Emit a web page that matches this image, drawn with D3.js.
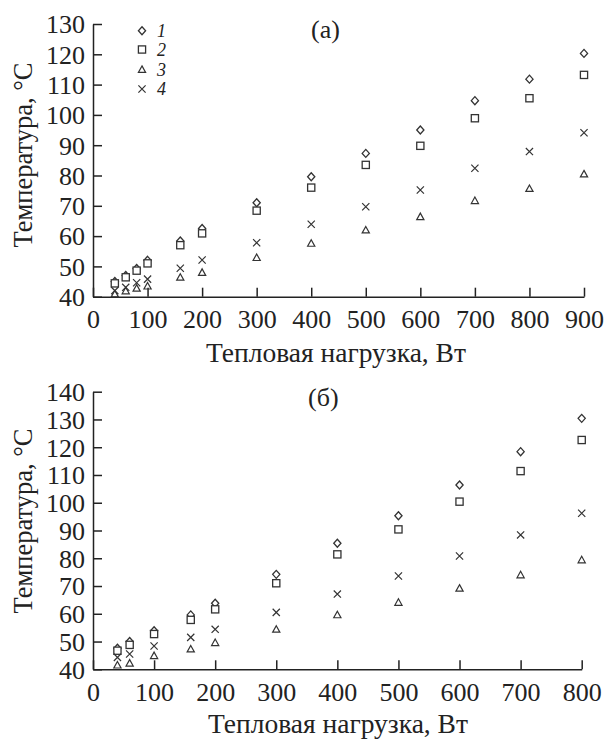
<!DOCTYPE html>
<html><head><meta charset="utf-8">
<script src="https://cdn.jsdelivr.net/npm/d3@7/dist/d3.min.js"></script>
<style>body{margin:0;background:#fff}svg{display:block}text{font-family:"Liberation Serif","Times New Roman",serif;fill:#222}</style>
</head><body>
<script>
// Panel (a)
const xA = [40, 60, 80, 100, 160, 200, 300, 400, 500, 600, 700, 800, 900];
const a1 = [45, 47, 49.3, 52, 58.4, 62.5, 71, 79.6, 87.3, 95, 104.7, 111.8, 120.3];
const a2 = [44.4, 46.4, 48.6, 51, 57, 60.9, 68.4, 76, 83.5, 89.8, 98.9, 105.5, 113.2];
const a3 = [40.9, 41.9, 42.8, 43.5, 46.4, 48, 52.9, 57.6, 62, 66.4, 71.7, 75.7, 80.5];
const a4 = [42, 43.1, 44.6, 45.8, 49.4, 52.1, 57.8, 63.9, 69.7, 75.2, 82.4, 87.9, 94.1];
const xTicksA = [0, 100, 200, 300, 400, 500, 600, 700, 800, 900];
const yTicksA = [40, 50, 60, 70, 80, 90, 100, 110, 120, 130];
// Panel (б)
const xB = [40, 60, 100, 160, 200, 300, 400, 500, 600, 700, 800];
const b1 = [47.6, 50, 53.9, 59.6, 63.8, 74.2, 85.4, 95.3, 106.4, 118.4, 130.4];
const b2 = [46.7, 48.8, 52.7, 57.8, 61.6, 71, 81.4, 90.4, 100.4, 111.4, 122.6];
const b3 = [41.5, 42.2, 44.9, 47.3, 49.6, 54.4, 59.6, 64.1, 69.2, 74, 79.4];
const b4 = [44.3, 45.5, 48.4, 51.5, 54.4, 60.5, 67.1, 73.6, 80.8, 88.4, 96.2];
const xTicksB = [0, 100, 200, 300, 400, 500, 600, 700, 800];
const yTicksB = [40, 50, 60, 70, 80, 90, 100, 110, 120, 130, 140];
const legendLabels = ["1", "2", "3", "4"];
const xTitle = "Тепловая нагрузка, Вт";
const yTitle = "Температура, °C";

const W = 605, H = 740;
const svg = d3.select("body").append("svg").attr("width", W).attr("height", H);
const stroke = "#333";

function marker(g, type, x, y) {
  const s = 3.6;
  if (type === 0) {
    g.append("path").attr("d", `M${x},${y-s-0.4}L${x+s},${y}L${x},${y+s+0.4}L${x-s},${y}Z`)
      .attr("fill", "#fff").attr("stroke", stroke).attr("stroke-width", 1.3);
  } else if (type === 1) {
    g.append("rect").attr("x", x-s).attr("y", y-s).attr("width", 2*s).attr("height", 2*s)
      .attr("fill", "#fff").attr("stroke", stroke).attr("stroke-width", 1.3);
  } else if (type === 2) {
    g.append("path").attr("d", `M${x},${y-s}L${x+s},${y+s*0.8}L${x-s},${y+s*0.8}Z`)
      .attr("fill", "none").attr("stroke", stroke).attr("stroke-width", 1.2);
  } else {
    g.append("path").attr("d", `M${x-s},${y-s}L${x+s},${y+s}M${x+s},${y-s}L${x-s},${y+s}`)
      .attr("fill", "none").attr("stroke", stroke).attr("stroke-width", 1.2);
  }
}

function panel(cfg) {
  const g = svg.append("g");
  const x = d3.scaleLinear().domain(cfg.xDom).range([cfg.x0, cfg.x1]);
  const y = d3.scaleLinear().domain(cfg.yDom).range([cfg.y0, cfg.y1]);
  const xa = g.append("g").attr("transform", `translate(0,${cfg.y0})`)
    .call(d3.axisBottom(x).tickValues(cfg.xTicks).tickSizeInner(-9).tickSizeOuter(0).tickPadding(16));
  const ya = g.append("g").attr("transform", `translate(${cfg.x0},0)`)
    .call(d3.axisLeft(y).tickValues(cfg.yTicks).tickSizeInner(-9).tickSizeOuter(0).tickPadding(8));
  [xa, ya].forEach(a => {
    a.select(".domain").attr("stroke", "#222").attr("stroke-width", 1.5);
    a.selectAll(".tick line").attr("stroke", "#222").attr("stroke-width", 1.5);
    a.selectAll(".tick text").attr("fill", "#222").style("font-size", "26px")
      .style("font-family", '"Liberation Serif",serif');
  });
  xa.selectAll(".tick text").attr("dy", "0.71em").attr("y", 13);
  ya.selectAll(".tick text").attr("dy", "0.34em");
  const mg = g.append("g");
  cfg.series.forEach((s, i) => {
    s.forEach((v, j) => marker(mg, i, x(cfg.xs[j]), y(v)));
  });
  g.append("text").attr("x", cfg.xTitleX).attr("y", cfg.xTitleY)
    .attr("text-anchor", "middle").style("font-size", "27.5px").text(xTitle);
  g.append("text").attr("transform", `translate(${cfg.yTitleX},${cfg.yTitleY}) rotate(-90)`)
    .attr("text-anchor", "middle").style("font-size", "26.5px").text(yTitle);
  g.append("text").attr("x", cfg.labelX).attr("y", cfg.labelY).style("font-size", "26px").text(cfg.label);
  return { x, y, g };
}

panel({
  xDom: [0, 900], yDom: [40, 130], x0: 93, x1: 584, y0: 296.7, y1: 24,
  xTicks: xTicksA, yTicks: yTicksA, xs: xA, series: [a1, a2, a3, a4],
  xTitleX: 336, xTitleY: 362, yTitleX: 32, yTitleY: 155, label: "(a)", labelX: 311, labelY: 38
});
panel({
  xDom: [0, 800], yDom: [40, 140], x0: 93, x1: 581.7, y0: 669.3, y1: 391.7,
  xTicks: xTicksB, yTicks: yTicksB, xs: xB, series: [b1, b2, b3, b4],
  xTitleX: 338, xTitleY: 733, yTitleX: 32, yTitleY: 521, label: "(б)", labelX: 308, labelY: 406
});

// legend in panel (a)
const lg = svg.append("g");
const legY = [30.7, 49.5, 69.5, 89];
legendLabels.forEach((t, i) => {
  marker(lg, i, 142, legY[i]);
  lg.append("text").attr("x", 157).attr("y", legY[i]).attr("dy", "0.35em")
    .style("font-size", "18px").style("font-style", "italic").text(t);
});
</script>
</body></html>
